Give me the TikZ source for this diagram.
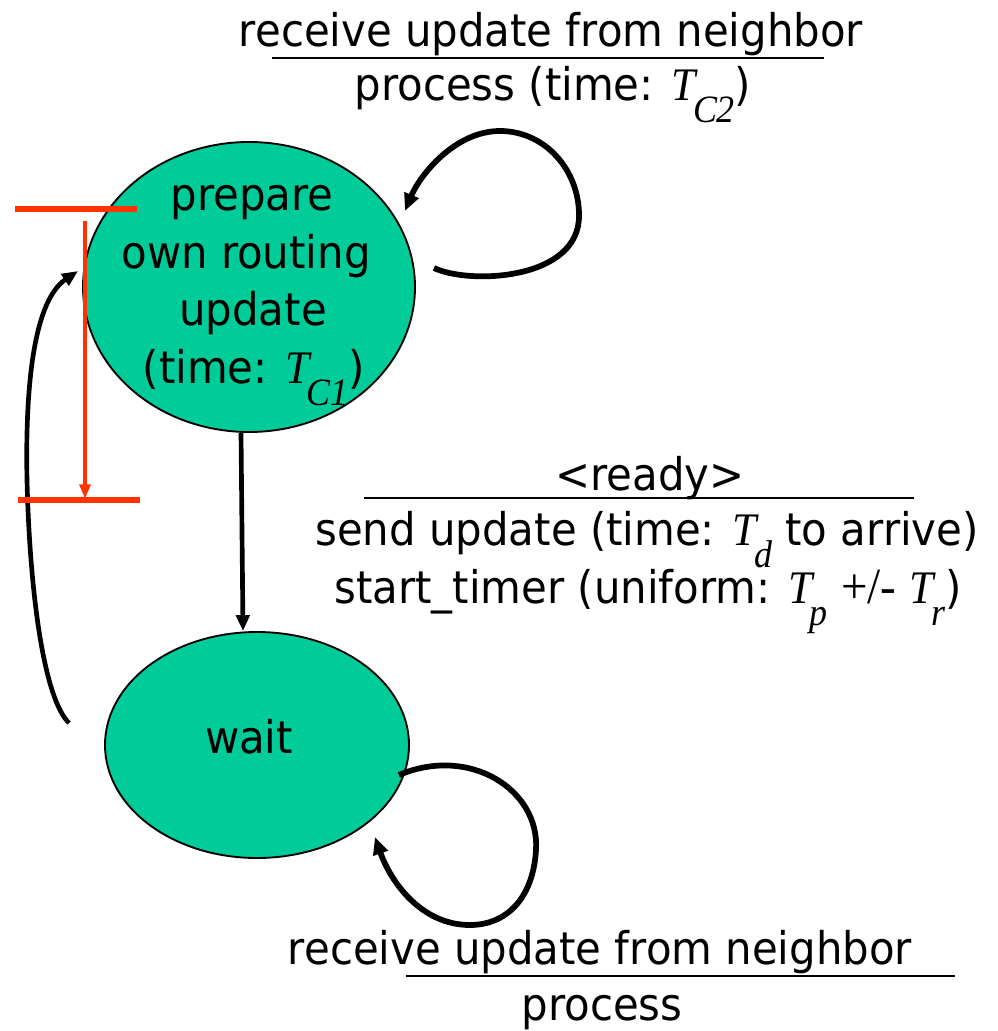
\documentclass[tikz,border=0pt]{standalone}
\usepackage{fontspec}
\setmainfont{DejaVu Sans}[FakeStretch=0.93]
\newfontfamily\tms{Liberation Serif}[FakeStretch=0.93]
\usetikzlibrary{arrows.meta,calc,shapes.geometric}
\definecolor{stgreen}{RGB}{0,204,153}
\definecolor{annred}{RGB}{255,51,0}
\newcommand\Tsb[1]{{\tms\itshape\fontsize{35}{35}\selectfont T\kern-2pt\raisebox{-0.48em}{\fontsize{29}{29}\selectfont #1}}}
\newcommand\pmtxt{{\tms\fontsize{38}{38}\selectfont +/-}}
\begin{document}
\begin{tikzpicture}[x=0.75pt,y=-0.75pt,
  every node/.style={font=\fontsize{33.75}{43.5}\selectfont, inner sep=0pt},
  state/.style={ellipse, draw=black, line width=1.4pt, fill=stgreen, inner sep=0pt},
  trans/.style={draw=black, line width=3.5pt, -{Triangle[length=12pt,width=10pt]}},
  loopar/.style={draw=black, line width=4.3pt, -{Triangle[length=13pt,width=11pt]}},
  uline/.style={draw=black, line width=1.5pt},
  redbar/.style={draw=annred, line width=3.8pt},
  redarr/.style={draw=annred, line width=3pt, -{Triangle[length=11pt,width=8pt]}}
]
\useasboundingbox (0,0) rectangle (997,1031);

% states
\node[state, minimum width=249pt, minimum height=217.5pt] (prep) at (249,287) {};
\node[state, minimum width=228pt, minimum height=169.5pt] (wait) at (257,745) {};

% state texts
\node[anchor=base] (p1) at (252,210) {prepare};
\node[anchor=base] (p2) at (246,268) {own routing};
\node[anchor=base] (p3) at (253,325) {update};
\node[anchor=base] (p4) at (254,383) {(time: \Tsb{C1})};
\node[anchor=base] (wt) at (249,753) {wait};

% top label
\node[anchor=base] (l1a) at (551,47) {receive update from neighbor};
\node[anchor=base] (l1b) at (553,100) {process (time: \Tsb{C2})};
\draw[uline] (272,58) -- (824,58);

% middle label
\node[anchor=base] (l2a) at (650,490) {<ready>};
\draw[uline] (364,498) -- (914,498);
\node[anchor=base] (l2b) at (647,545) {send update (time: \Tsb{d} to arrive)};
\node[anchor=base] (l2c) at (648,603) {start\_timer (uniform: \Tsb{p} \pmtxt{} \Tsb{r})};

% bottom label
\node[anchor=base] (l3a) at (600,964) {receive update from neighbor};
\draw[uline] (406,976) -- (955,976);
\node[anchor=base] (l3b) at (602,1020) {process};

% connectors
\draw[trans] ($(prep.south)+(-8,0)$) -- ($(wait.north)+(-14,0)$);
\draw[loopar] ($(prep.east)+(18,-19)$) .. controls (470,285) and (580,280) .. (579,215)
   .. controls (579,170) and (545,131) .. (500,131)
   .. controls (455,131) and (420,175) .. ($(prep.east)+(-11,-76)$);
\draw[trans] ($(wait.west)+(-35,-22)$) .. controls (45,700) and (30,600) .. (27,480)
   .. controls (25,380) and (35,300) .. ($(prep.west)+(-4,-16)$);
\draw[loopar] ($(wait.east)+(-11,30)$) .. controls (470,745) and (540,790) .. (536,850)
   .. controls (533,900) and (505,925) .. (470,925)
   .. controls (420,925) and (390,880) .. ($(wait.east)+(-35,92)$);

% red timing marks
\draw[redbar] (15,209) -- (137,209);
\draw[redarr] (85,221) -- (85,499);
\draw[redbar] (18,500) -- (140,500);
\end{tikzpicture}
\end{document}
